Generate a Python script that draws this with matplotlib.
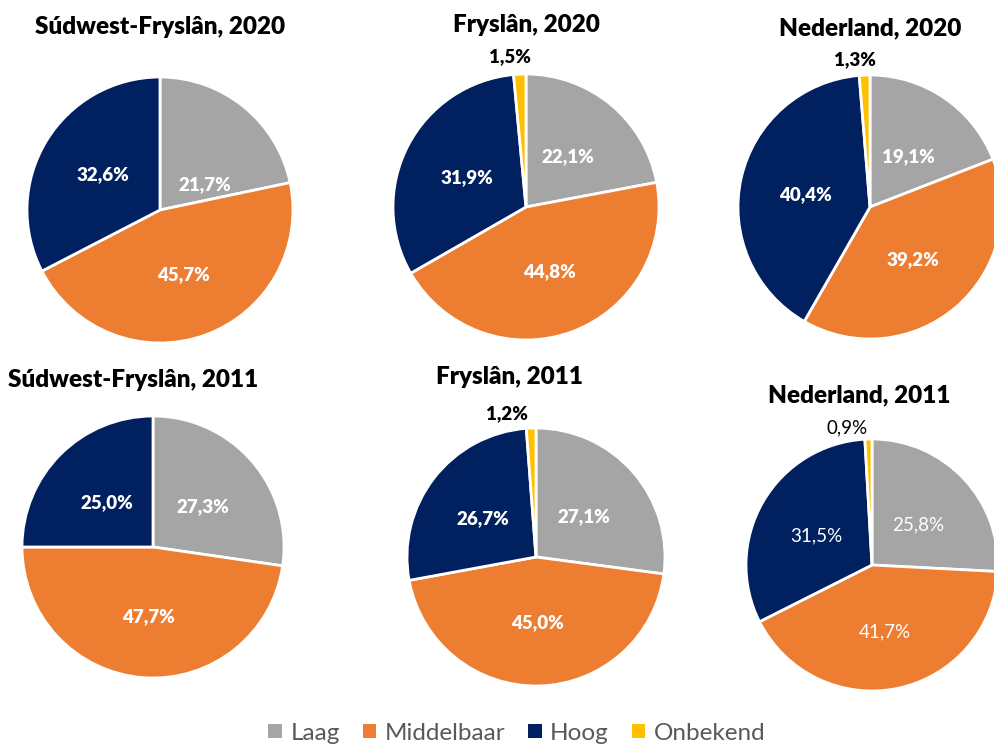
import matplotlib
matplotlib.use("Agg")
import matplotlib.pyplot as plt
from matplotlib.patches import Patch

plt.rcParams['font.family'] = ['Lato', 'DejaVu Sans']

# ---- data ----
categories = ["Laag", "Middelbaar", "Hoog", "Onbekend"]
colors = ["#A5A5A5", "#ED7D31", "#002060", "#FFC000"]

titles = ["Súdwest-Fryslân, 2020", "Fryslân, 2020", "Nederland, 2020",
          "Súdwest-Fryslân, 2011", "Fryslân, 2011", "Nederland, 2011"]
swf_2020 = [21.7, 45.7, 32.6, 0.0]
frl_2020 = [22.1, 44.8, 31.9, 1.5]
nl_2020 = [19.1, 39.2, 40.4, 1.3]
swf_2011 = [27.3, 47.7, 25.0, 0.0]
frl_2011 = [27.1, 45.0, 26.7, 1.2]
nl_2011 = [25.8, 41.7, 31.5, 0.9]
series = [swf_2020, frl_2020, nl_2020, swf_2011, frl_2011, nl_2011]

# ---- layout (pixels) ----
W, H = 995, 747
pie_geom = [(160, 210, 133), (526, 207, 133), (870, 207, 132),
            (153, 547, 131), (536, 557, 129), (872, 565, 126)]
title_pos = [(160, 27), (526, 25), (870, 28), (133, 380), (510, 377), (859, 395)]
# label offsets relative to pie centre, in radius units (x right, y up)
label_off = [
    [(0.338, 0.188), (0.173, -0.489), (-0.429, 0.263), None],
    [(0.312, 0.376), (0.177, -0.489), (-0.447, 0.218), (-0.124, 1.128)],
    [(0.288, 0.379), (0.326, -0.402), (-0.492, 0.091), (-0.114, 1.114)],
    [(0.382, 0.305), (-0.038, -0.534), (-0.351, 0.336), None],
    [(0.372, 0.310), (0.008, -0.510), (-0.410, 0.300), (-0.225, 1.110)],
    [(0.365, 0.317), (0.103, -0.532), (-0.444, 0.230), (-0.198, 1.087)],
]
bold_labels = [True, True, True, True, True, False]

fig = plt.figure(figsize=(W / 100, H / 100), dpi=100)
fig.patch.set_facecolor("white")

for i, vals in enumerate(series):
    cx, cy, r = pie_geom[i]
    ax = fig.add_axes([(cx - r) / W, (H - cy - r) / H, 2 * r / W, 2 * r / H])
    keep = [k for k, v in enumerate(vals) if v > 0]
    v = [vals[k] for k in keep]
    c = [colors[k] for k in keep]
    wedges, _ = ax.pie(v, colors=c, startangle=90, counterclock=False, radius=1,
                       wedgeprops=dict(edgecolor="white", linewidth=2.0))
    for w in wedges:
        w.set_clip_on(False)
    ax.set_xlim(-1.0, 1.0)
    ax.set_ylim(-1.0, 1.0)
    ax.set_aspect("equal")
    ax.axis("off")
    for k in keep:
        off = label_off[i][k]
        txt = f"{vals[k]:.1f}".replace(".", ",") + "%"
        col = "white" if k < 3 else "black"
        ax.text(off[0], off[1], txt, ha="center", va="center", color=col,
                fontsize=13.5, fontweight="heavy" if bold_labels[i] else "normal",
                clip_on=False)
    tx, ty = title_pos[i]
    fig.text(tx / W, 1 - ty / H, titles[i], ha="center", va="center",
             fontsize=17.5, fontweight="heavy", color="black")

handles = [Patch(facecolor=col, edgecolor="none") for col in colors]
fig.legend(handles, categories, loc="center", bbox_to_anchor=(517 / W, 1 - 733 / H),
           ncol=4, frameon=False, fontsize=17.5, labelcolor="#595959",
           handlelength=0.55, handleheight=0.55, handletextpad=0.35, columnspacing=0.95,
           borderpad=0.0)

fig.savefig("out.png", dpi=100, facecolor="white")
